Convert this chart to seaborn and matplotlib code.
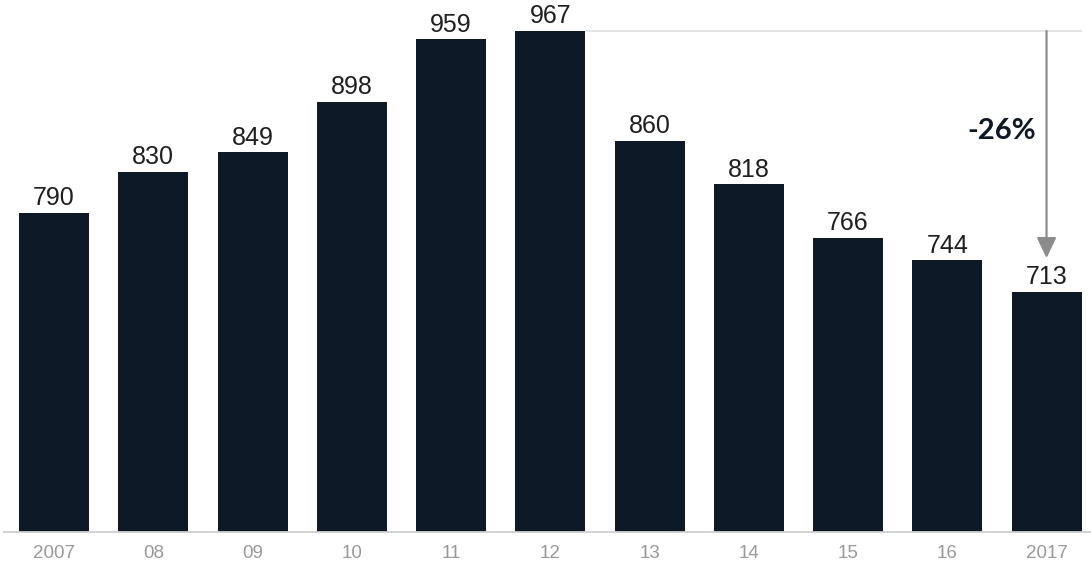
import matplotlib
matplotlib.use("Agg")
import matplotlib.pyplot as plt
import seaborn as sns
import pandas as pd

years = ["2007", "08", "09", "10", "11", "12", "13", "14", "15", "16", "2017"]
values = [790, 830, 849, 898, 959, 967, 860, 818, 766, 744, 713]
change_label = "-26%"

sns.set_theme(style="white")
plt.rcParams['font.family'] = ['Liberation Sans', 'DejaVu Sans']

df = pd.DataFrame({"year": years, "value": values})

fig = plt.figure(figsize=(10.91, 5.74), dpi=100)
ax = fig.add_axes([4 / 1091, 42 / 574, 1 - 4 / 1091, 532 / 574])

bar_color = "#0d1926"
sns.barplot(data=df, x="year", y="value", color=bar_color, width=0.705,
            saturation=1, ax=ax, order=years, linewidth=0)

ax.set_xlim(-0.504, 10.448)
ax.set_ylim(479.5, 997.2)

for i, v in enumerate(values):
    ax.annotate(str(v), (i, v), xytext=(0, 5.5), textcoords="offset points",
                ha="center", va="baseline", fontsize=18, color="#1f1f1f")

# reference line from peak to last bar
peak_i = values.index(max(values))
ax.plot([peak_i + 0.3525, len(values) - 1 + 0.3525], [max(values), max(values)],
        color="#e3e3e3", lw=1.3, zorder=1, solid_capstyle="butt")

# arrow
ax.annotate("", xy=(len(values) - 1, 746), xytext=(len(values) - 1, max(values)),
            arrowprops=dict(arrowstyle="-|>,head_length=1.05,head_width=0.5",
                            color="#8c8c8c", lw=1.6, shrinkA=0, shrinkB=0))
ax.text(len(values) - 1 - 0.11, 870, change_label, ha="right", va="center",
        fontsize=21, fontweight="bold", color="#0d1926", family=["Lato", "DejaVu Sans"])

for s in ["top", "right", "left"]:
    ax.spines[s].set_visible(False)
ax.spines["bottom"].set_color("#cfcfcf")
ax.spines["bottom"].set_linewidth(1.3)
ax.set_xlabel("")
ax.set_ylabel("")
ax.set_yticks([])
ax.tick_params(axis="x", length=0, pad=9, labelsize=13.5, labelcolor="#999999")

fig.savefig("out.png", dpi=100)
